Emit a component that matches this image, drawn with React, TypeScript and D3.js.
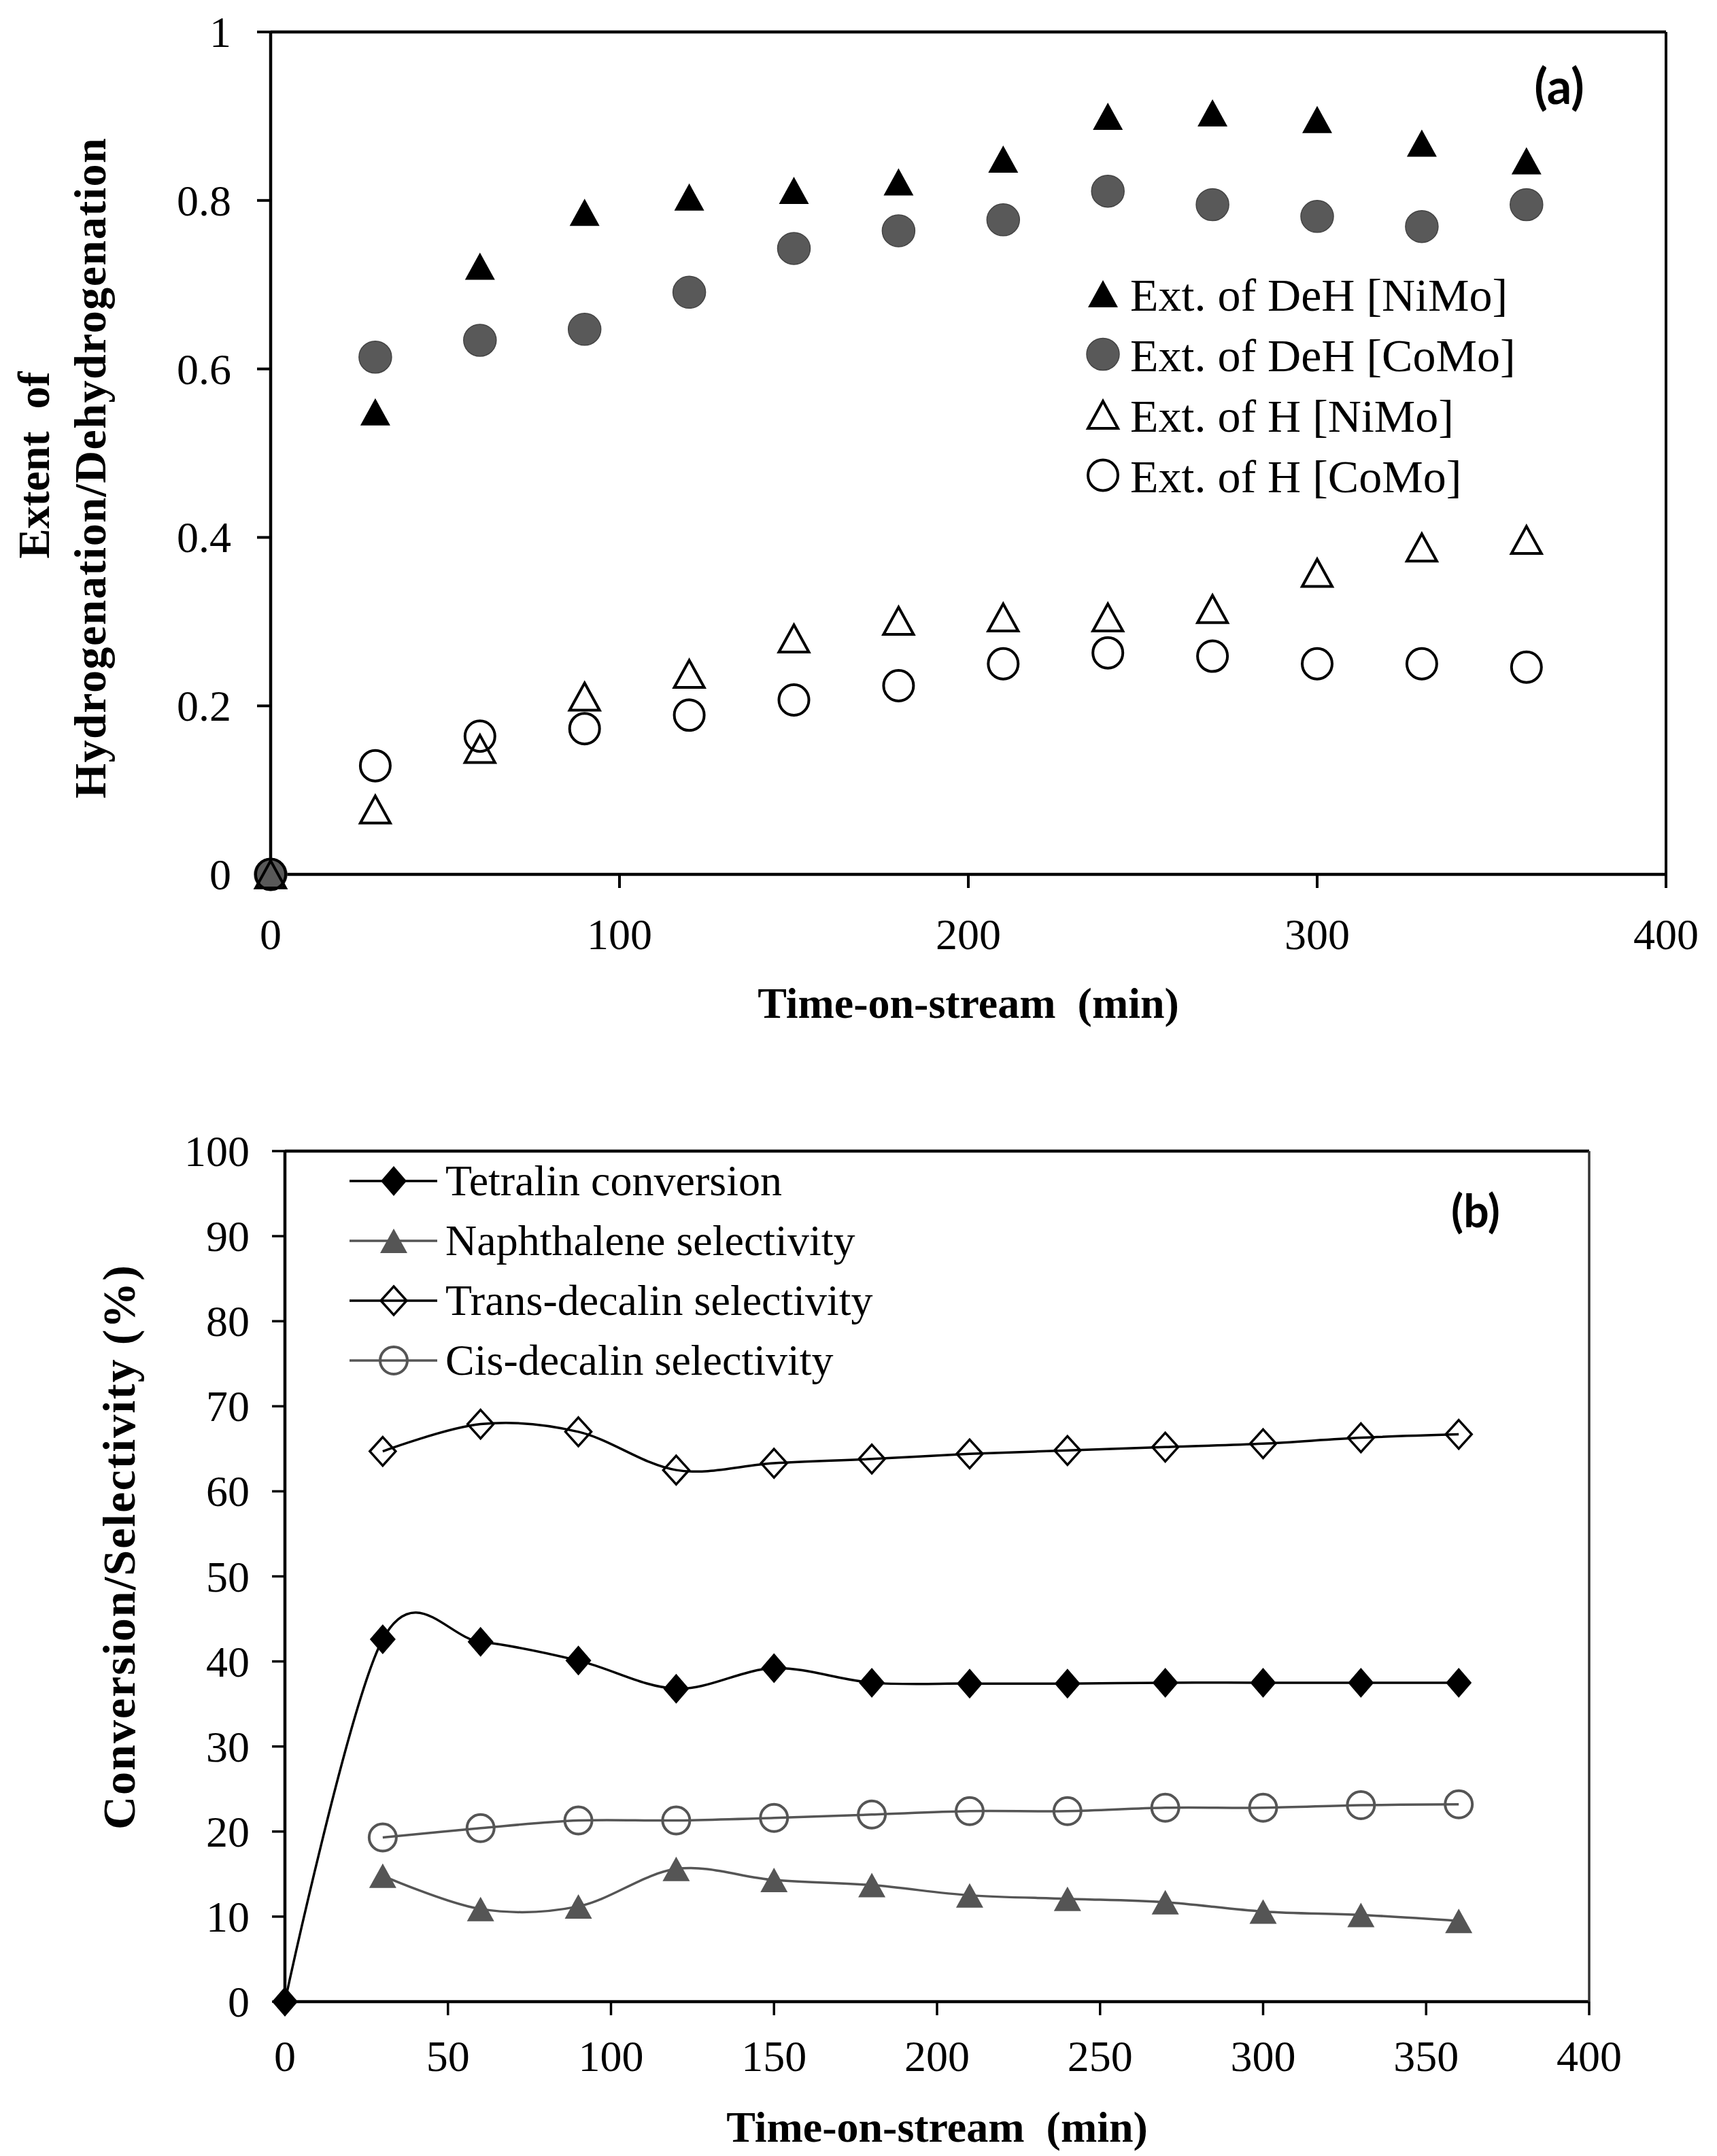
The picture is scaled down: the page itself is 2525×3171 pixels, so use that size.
import React from "react";
import * as d3 from "d3";

// ---------- Panel (a) data ----------
const timeA = [0, 30, 60, 90, 120, 150, 180, 210, 240, 270, 300, 330, 360];
const dehNiMo = [0, 0.549, 0.722, 0.786, 0.804, 0.812, 0.822, 0.849, 0.9, 0.904, 0.896, 0.868, 0.847];
const dehCoMo = [0, 0.614, 0.634, 0.647, 0.691, 0.743, 0.764, 0.777, 0.811, 0.795, 0.781, 0.769, 0.795];
const hNiMo = [0, 0.077, 0.149, 0.211, 0.238, 0.28, 0.301, 0.305, 0.305, 0.315, 0.358, 0.388, 0.397];
const hCoMo = [0, 0.129, 0.164, 0.173, 0.189, 0.207, 0.224, 0.25, 0.263, 0.259, 0.25, 0.25, 0.246];
const xTicksA = [0, 100, 200, 300, 400];
const yTicksA = [0, 0.2, 0.4, 0.6, 0.8, 1];
const legendA = ["Ext. of DeH [NiMo]", "Ext. of DeH [CoMo]", "Ext. of H [NiMo]", "Ext. of H [CoMo]"];

// ---------- Panel (b) data ----------
const timeTetralin = [0, 30, 60, 90, 120, 150, 180, 210, 240, 270, 300, 330, 360];
const tetralinConv = [0, 42.6, 42.3, 40.1, 36.8, 39.2, 37.5, 37.4, 37.4, 37.5, 37.5, 37.5, 37.5];
const timeB = [30, 60, 90, 120, 150, 180, 210, 240, 270, 300, 330, 360];
const naphSel = [14.8, 10.9, 11.2, 15.6, 14.3, 13.7, 12.5, 12.1, 11.7, 10.6, 10.2, 9.5];
const transSel = [64.7, 67.9, 67.0, 62.5, 63.3, 63.8, 64.4, 64.8, 65.2, 65.6, 66.3, 66.7];
const cisSel = [19.3, 20.4, 21.3, 21.3, 21.6, 22.0, 22.4, 22.4, 22.8, 22.8, 23.1, 23.2];
const xTicksB = [0, 50, 100, 150, 200, 250, 300, 350, 400];
const yTicksB = [0, 10, 20, 30, 40, 50, 60, 70, 80, 90, 100];
const legendB = ["Tetralin conversion", "Naphthalene selectivity", "Trans-decalin selectivity", "Cis-decalin selectivity"];

const SERIF = "'Liberation Serif', 'Times New Roman', serif";
const GRAY = "#595959";

const tri = (w: number, h: number) => `M0,${-h / 2}L${w / 2},${h / 2}L${-w / 2},${h / 2}Z`;
const diamond = (w: number, h: number) => `M0,${-h / 2}L${w / 2},0L0,${h / 2}L${-w / 2},0Z`;

function Marker({ kind, x, y }: { kind: string; x: number; y: number }) {
  switch (kind) {
    case "triFill":
      return <path d={tri(44, 40)} transform={`translate(${x},${y})`} fill="#000" />;
    case "circGray":
      return <ellipse cx={x} cy={y} rx={24} ry={23.5} fill={GRAY} stroke="#444" strokeWidth={1.5} />;
    case "triOpen":
      return <path d={tri(44, 40)} transform={`translate(${x},${y})`} fill="none" stroke="#000" strokeWidth={4} />;
    case "circOpen":
      return <ellipse cx={x} cy={y} rx={22} ry={22.5} fill="none" stroke="#000" strokeWidth={4} />;
    case "diaFill":
      return <path d={diamond(38, 44)} transform={`translate(${x},${y})`} fill="#000" />;
    case "triGray":
      return <path d={tri(40, 36)} transform={`translate(${x},${y})`} fill="#555" />;
    case "diaOpen":
      return <path d={diamond(38, 42)} transform={`translate(${x},${y})`} fill="none" stroke="#000" strokeWidth={3.5} />;
    case "circGrayOpen":
      return <ellipse cx={x} cy={y} rx={20} ry={20} fill="none" stroke="#555" strokeWidth={4} />;
    default:
      return null;
  }
}

function PanelA() {
  const x = d3.scaleLinear().domain([0, 400]).range([398, 2450]);
  const y = d3.scaleLinear().domain([0, 1]).range([1286, 47]);
  const series = [
    { vals: dehNiMo, kind: "triFill" },
    { vals: dehCoMo, kind: "circGray" },
    { vals: hNiMo, kind: "triOpen" },
    { vals: hCoMo, kind: "circOpen" },
  ];
  const [x0, x1] = x.range();
  const [y0, y1] = y.range();
  return (
    <g>
      <line x1={x0} x2={x0} y1={y1} y2={y0} stroke="#000" strokeWidth={4.5} />
      <line x1={x0} x2={x1} y1={y0} y2={y0} stroke="#000" strokeWidth={4.5} />
      <line x1={x0} x2={x1} y1={y1} y2={y1} stroke="#000" strokeWidth={4.5} />
      <line x1={x1} x2={x1} y1={y1} y2={y0} stroke="#000" strokeWidth={4} />
      {yTicksA.map((t) => (
        <g key={"ya" + t}>
          <line x1={x0 - 20} x2={x0} y1={y(t)} y2={y(t)} stroke="#000" strokeWidth={4} />
          <text x={x0 - 58} y={y(t) + 22} textAnchor="end" fontFamily={SERIF} fontSize={64}>
            {d3.format("~g")(t)}
          </text>
        </g>
      ))}
      {xTicksA.map((t) => (
        <g key={"xa" + t}>
          <line x1={x(t)} x2={x(t)} y1={y0} y2={y0 + 20} stroke="#000" strokeWidth={4} />
          <text x={x(t)} y={1396} textAnchor="middle" fontFamily={SERIF} fontSize={64}>
            {t}
          </text>
        </g>
      ))}
      {series.map((s, si) =>
        s.vals.map((v, i) => <Marker key={si + "-" + i} kind={s.kind} x={x(timeA[i])} y={y(v)} />)
      )}
      {series.map((s, i) => {
        const cy = 432 + i * 89;
        return (
          <g key={"la" + i}>
            <Marker kind={s.kind} x={1622} y={cy} />
            <text x={1662} y={cy + 25} fontFamily={SERIF} fontSize={68}>
              {legendA[i]}
            </text>
          </g>
        );
      })}
      <text x={2293} y={153} textAnchor="middle" fontFamily="Lato, 'Open Sans', sans-serif" fontWeight={700} fontSize={72}>
        (a)
      </text>
      <text x={1424} y={1497} textAnchor="middle" fontFamily={SERIF} fontWeight={700} fontSize={64}>
        Time-on-stream{"\u00a0\u00a0"}(min)
      </text>
      <text transform={`translate(72,684) rotate(-90)`} textAnchor="middle" fontFamily={SERIF} fontWeight={700} fontSize={66}>
        Extent{"\u00a0\u00a0"}of
      </text>
      <text transform={`translate(155,688) rotate(-90)`} textAnchor="middle" fontFamily={SERIF} fontWeight={700} fontSize={66} letterSpacing={1.5}>
        Hydrogenation/Dehydrogenation
      </text>
    </g>
  );
}

function PanelB() {
  const x = d3.scaleLinear().domain([0, 400]).range([419, 2337]);
  const y = d3.scaleLinear().domain([0, 100]).range([2944, 1693]);
  const [x0, x1] = x.range();
  const [y0, y1] = y.range();
  const curve = d3.curveCardinal.tension(0);
  const line = d3
    .line<[number, number]>()
    .x((d) => x(d[0]))
    .y((d) => y(d[1]))
    .curve(curve);
  const zip = (ts: number[], vs: number[]) => ts.map((t, i) => [t, vs[i]] as [number, number]);
  const series = [
    { pts: zip(timeTetralin, tetralinConv), kind: "diaFill", color: "#000" },
    { pts: zip(timeB, naphSel), kind: "triGray", color: "#555" },
    { pts: zip(timeB, transSel), kind: "diaOpen", color: "#000" },
    { pts: zip(timeB, cisSel), kind: "circGrayOpen", color: "#555" },
  ];
  return (
    <g>
      <line x1={x0} x2={x0} y1={y1} y2={y0} stroke="#000" strokeWidth={4.5} />
      <line x1={x0} x2={x1} y1={y0} y2={y0} stroke="#000" strokeWidth={4.5} />
      <line x1={x0} x2={x1} y1={y1} y2={y1} stroke="#000" strokeWidth={4.5} />
      <line x1={x1} x2={x1} y1={y1} y2={y0} stroke="#333" strokeWidth={3.5} />
      {yTicksB.map((t) => (
        <g key={"yb" + t}>
          <line x1={x0 - 19} x2={x0} y1={y(t)} y2={y(t)} stroke="#000" strokeWidth={3.5} />
          <text x={x0 - 52} y={y(t) + 22} textAnchor="end" fontFamily={SERIF} fontSize={64}>
            {t}
          </text>
        </g>
      ))}
      {xTicksB.map((t) => (
        <g key={"xb" + t}>
          <line x1={x(t)} x2={x(t)} y1={y0} y2={y0 + 20} stroke="#000" strokeWidth={3.5} />
          <text x={x(t)} y={3046} textAnchor="middle" fontFamily={SERIF} fontSize={64}>
            {t}
          </text>
        </g>
      ))}
      {series.map((s, si) => (
        <g key={"sb" + si}>
          <path d={line(s.pts) || ""} fill="none" stroke={s.color} strokeWidth={3.5} />
          {s.pts.map((p, i) => (
            <Marker key={i} kind={s.kind} x={x(p[0])} y={y(p[1])} />
          ))}
        </g>
      ))}
      {series.map((s, i) => {
        const cy = 1737 + i * 88;
        return (
          <g key={"lb" + i}>
            <line x1={514} x2={643} y1={cy} y2={cy} stroke={s.color} strokeWidth={3.5} />
            <Marker kind={s.kind} x={579} y={cy} />
            <text x={655} y={cy + 21} fontFamily={SERIF} fontSize={64}>
              {legendB[i]}
            </text>
          </g>
        );
      })}
      <text x={2170} y={1805} textAnchor="middle" fontFamily="Lato, 'Open Sans', sans-serif" fontWeight={700} fontSize={66}>
        (b)
      </text>
      <text x={1378} y={3150} textAnchor="middle" fontFamily={SERIF} fontWeight={700} fontSize={64}>
        Time-on-stream{"\u00a0\u00a0"}(min)
      </text>
      <text transform={`translate(198,2275) rotate(-90)`} textAnchor="middle" fontFamily={SERIF} fontWeight={700} fontSize={68} letterSpacing={2}>
        Conversion/Selectivity (%)
      </text>
    </g>
  );
}

export default function App() {
  return (
    <div style={{ position: "absolute", left: 0, top: 0 }}>
      <svg width={2525} height={3171} viewBox="0 0 2525 3171" style={{ display: "block", background: "#fff" }}>
        <rect width={2525} height={3171} fill="#fff" />
        <PanelA />
        <PanelB />
      </svg>
    </div>
  );
}
